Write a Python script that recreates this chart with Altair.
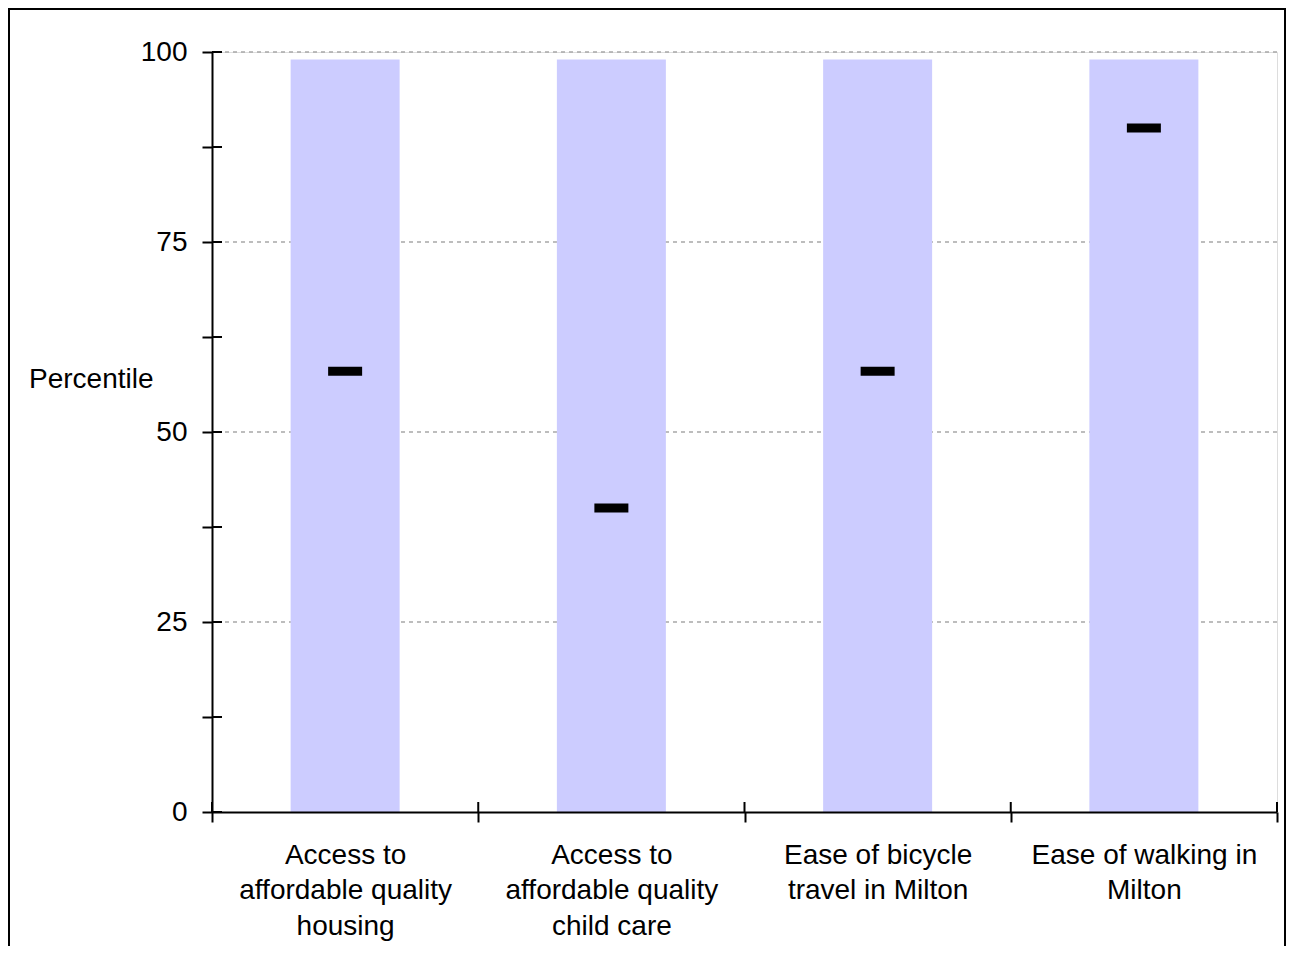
import altair as alt
import pandas as pd

FONT = "Liberation Sans"

categories = [
    "Access to\naffordable quality\nhousing",
    "Access to\naffordable quality\nchild care",
    "Ease of bicycle\ntravel in Milton",
    "Ease of walking in\nMilton",
]
range_top = [99, 99, 99, 99]
percentile = [58, 40, 58, 90]
y_tick_values = [0, 12.5, 25, 37.5, 50, 62.5, 75, 87.5, 100]
grid_values = [25, 50, 75, 100]

df = pd.DataFrame({"category": categories, "top": range_top, "pct": percentile})
ticks_df = pd.DataFrame({"v": y_tick_values})
grid_df = pd.DataFrame({"g": grid_values})
last_df = pd.DataFrame({"category": categories[-1:]})

x_scale = alt.Scale(domain=categories, paddingInner=0, paddingOuter=0)
y_scale = alt.Scale(domain=[0, 100], nice=False)

x_axis = alt.Axis(
    orient="bottom", labelAngle=0,
    labelExpr='isValid(datum.value) ? split(datum.value, "\\n") : ""',
    labelFont=FONT, labelFontSize=28, labelColor="black",
    labelLineHeight=35.5, labelPadding=19, labelLimit=400,
    tickBand="extent", tickSize=10, tickWidth=2, tickColor="black",
    domainColor="black", domainWidth=2, grid=False, zindex=1,
)
y_axis = alt.Axis(
    orient="left", values=y_tick_values,
    labelExpr="datum.value % 25 === 0 ? datum.label : ''",
    labelFont=FONT, labelFontSize=28, labelColor="black", labelPadding=15,
    tickSize=10, tickWidth=2, tickColor="black",
    domainColor="black", domainWidth=2, grid=False, zindex=1,
    titleAngle=0, titleFont=FONT, titleFontSize=28, titleFontWeight="normal",
    titleColor="black", titleX=-59, titleY=327, titleAlign="right",
    titleBaseline="middle",
)

grid = alt.Chart(grid_df).mark_rule(
    color="#A8A8A8", strokeWidth=1.5, strokeDash=[4, 4]
).encode(y=alt.Y("g:Q", scale=y_scale, axis=y_axis, title="Percentile"))

bars = alt.Chart(df).mark_bar(color="#CCCCFF", width=109).encode(
    x=alt.X("category:N", sort=categories, title=None, scale=x_scale, axis=x_axis),
    y=alt.Y("top:Q", scale=y_scale, axis=y_axis, title="Percentile"),
)

markers = alt.Chart(df).mark_tick(color="black", size=34, thickness=9, opacity=1).encode(
    x=alt.X("category:N", sort=categories, scale=x_scale, axis=x_axis, title=None),
    y=alt.Y("pct:Q", scale=y_scale, axis=y_axis, title="Percentile"),
)

# inner halves of the crossing axis ticks
y_inner = alt.Chart(ticks_df).mark_rule(color="black", strokeWidth=2).encode(
    y=alt.Y("v:Q", scale=y_scale, axis=y_axis, title="Percentile"),
    x=alt.value(0), x2=alt.value(10),
)
x_inner = alt.Chart(df).mark_rule(color="black", strokeWidth=2).encode(
    x=alt.X("category:N", sort=categories, scale=x_scale, bandPosition=0,
            axis=x_axis, title=None),
    y=alt.value(750), y2=alt.value(760),
)
x_inner_last = alt.Chart(last_df).mark_rule(color="black", strokeWidth=2).encode(
    x=alt.X("category:N", sort=categories, scale=x_scale, bandPosition=1,
            axis=x_axis, title=None),
    y=alt.value(750), y2=alt.value(760),
)

frame = alt.Chart(alt.Data(values=[{"f": 1}])).mark_rect(
    fillOpacity=0, stroke="black", strokeWidth=2
).encode(
    x=alt.value(-203), x2=alt.value(1073), y=alt.value(-43), y2=alt.value(1000)
)

chart = alt.layer(grid, bars, markers, y_inner, x_inner, x_inner_last, frame).properties(
    width=1065, height=760,
    padding={"left": 204, "top": 44, "right": 9, "bottom": 134},
    autosize=alt.AutoSizeParams(type="none"),
).configure_view(stroke="#808080", strokeWidth=2).configure(background="white")

chart.save("out.html", embed_options={"renderer": "svg", "actions": False})
